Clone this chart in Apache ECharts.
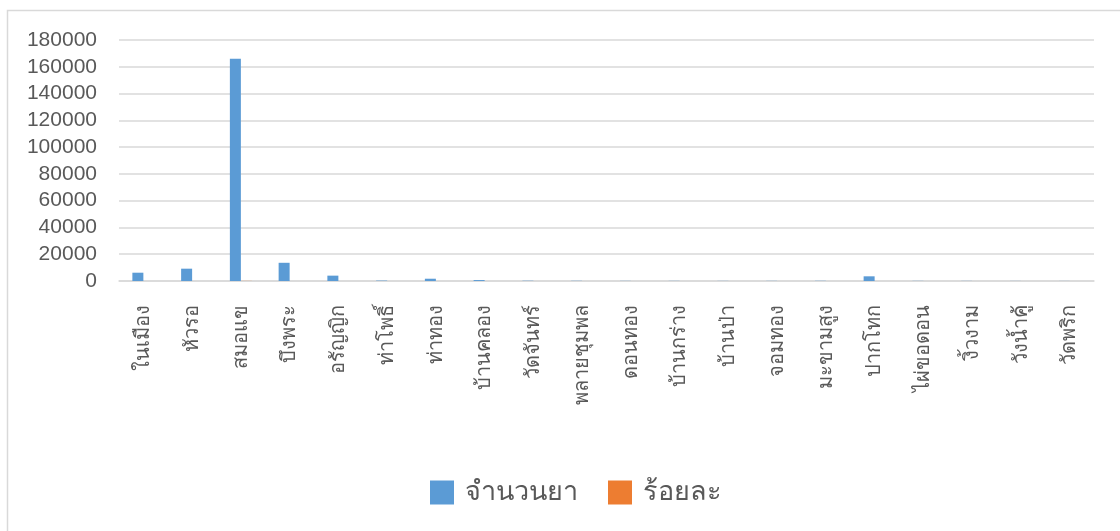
<!DOCTYPE html>
<html>
<head>
<meta charset="utf-8">
<script src="https://cdn.jsdelivr.net/npm/echarts@6/dist/echarts.min.js"></script>
<style>
html,body{margin:0;padding:0;background:#fff;}
#c{width:1120px;height:531px;}
</style>
</head>
<body>
<div id="c"></div>
<script>
const categories = ['ในเมือง','หัวรอ','สมอแข','บึงพระ','อรัญญิก','ท่าโพธิ์','ท่าทอง','บ้านคลอง','วัดจันทร์','พลายชุมพล','ดอนทอง','บ้านกร่าง','บ้านป่า','จอมทอง','มะขามสูง','ปากโทก','ไผ่ขอดอน','งิ้วงาม','วังน้ำคู้','วัดพริก'];
const countValues = [6200, 9200, 166000, 13600, 4000, 300, 1700, 700, 200, 150, 100, 100, 80, 100, 150, 3500, 100, 80, 60, 50];
const percentValues = [3.0, 4.46, 80.4, 6.6, 1.94, 0.15, 0.82, 0.34, 0.1, 0.07, 0.05, 0.05, 0.04, 0.05, 0.07, 1.7, 0.05, 0.04, 0.03, 0.02];
const seriesNames = ['จำนวนยา', 'ร้อยละ'];
const yTicks = {min: 0, max: 180000, interval: 20000};

const FONT = "'Noto Sans', 'DejaVu Sans', sans-serif";
const chart = echarts.init(document.getElementById('c'), null, {renderer: 'canvas'});
chart.setOption({
  animation: false,
  backgroundColor: '#fff',
  graphic: [{
    type: 'rect', silent: true,
    shape: {x: 7.5, y: 10.5, width: 1200, height: 700},
    style: {fill: 'none', stroke: '#d9d9d9', lineWidth: 1.5}
  }],
  grid: {left: 119, right: 26, top: 40, bottom: 250, containLabel: false},
  legend: {
    data: seriesNames,
    top: 474, left: 425,
    itemWidth: 24, itemHeight: 24, itemGap: 30,
    icon: 'rect',
    textStyle: {fontSize: 27, color: '#595959', fontFamily: FONT, padding: [0, 0, 0, 6]}
  },
  xAxis: {
    type: 'category',
    data: categories,
    axisLine: {lineStyle: {color: '#d9d9d9', width: 1.5}},
    axisTick: {show: false},
    axisLabel: {rotate: 90, interval: 0, fontSize: 20, color: '#595959', margin: 24, fontFamily: FONT}
  },
  yAxis: {
    type: 'value',
    min: yTicks.min, max: yTicks.max, interval: yTicks.interval,
    axisLine: {show: false},
    axisTick: {show: false},
    axisLabel: {fontSize: 21, color: '#595959', margin: 22, fontFamily: "'Liberation Sans', Arial, sans-serif",
      formatter: function (v) { return String(v); }},
    splitLine: {lineStyle: {color: '#d9d9d9', width: 1.5}}
  },
  series: [
    {name: seriesNames[0], type: 'bar', data: countValues, barWidth: 11, barGap: '0%', itemStyle: {color: '#5b9bd5'}},
    {name: seriesNames[1], type: 'bar', data: percentValues, barWidth: 11, barGap: '0%', itemStyle: {color: '#ed7d31'}}
  ]
});
</script>
</body>
</html>
